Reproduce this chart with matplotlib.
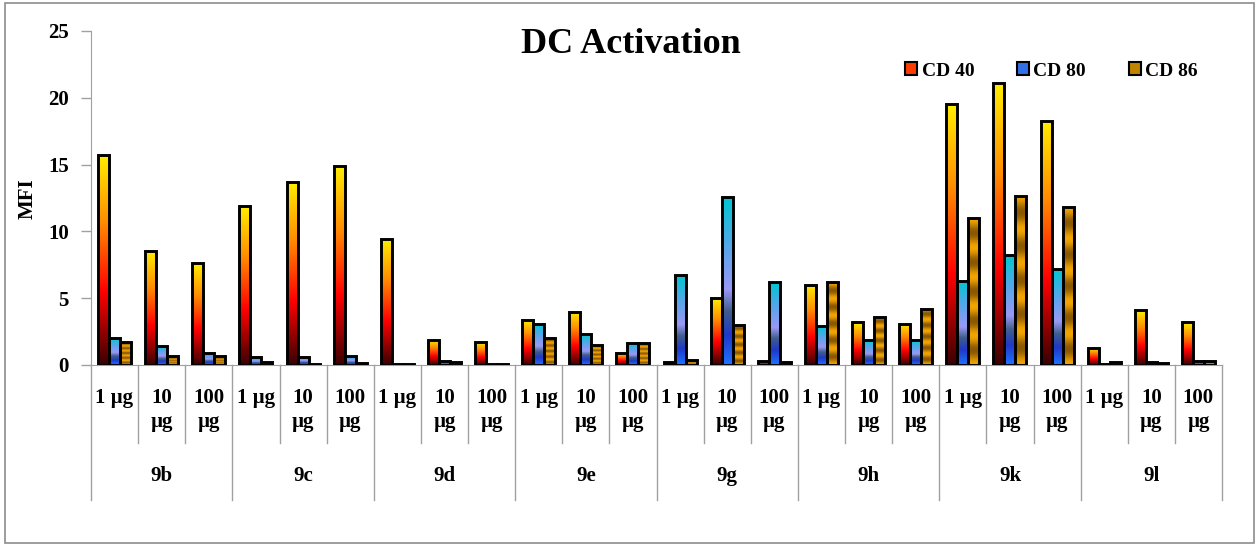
import matplotlib
matplotlib.use('Agg')
import matplotlib.pyplot as plt
import matplotlib.transforms as transforms
from matplotlib.colors import LinearSegmentedColormap
from matplotlib.patches import Patch, Rectangle
import numpy as np

# compounds and doses on the x axis
GROUPS = ['9b', '9c', '9d', '9e', '9g', '9h', '9k', '9l']
DOSES = ['1 µg', '10\nµg', '100\nµg']

# MFI per marker, 3 doses per compound
CD40 = [15.7, 8.5, 7.6, 11.9, 13.7, 14.9, 9.4, 1.9, 1.7, 3.4, 4.0, 0.9,
        0.25, 5.0, 0.33, 6.0, 3.2, 3.1, 19.5, 21.1, 18.3, 1.3, 4.1, 3.2]
CD80 = [2.05, 1.45, 0.9, 0.57, 0.6, 0.67, 0.1, 0.3, 0.05, 3.1, 2.3, 1.65,
        6.7, 12.55, 6.2, 2.95, 1.85, 1.85, 6.3, 8.2, 7.2, 0.1, 0.25, 0.3]
CD86 = [1.75, 0.67, 0.67, 0.25, 0.1, 0.15, 0.1, 0.2, 0.05, 2.05, 1.5, 1.65,
        0.4, 3.0, 0.25, 6.2, 3.6, 4.2, 11.0, 12.65, 11.8, 0.2, 0.15, 0.3]
SERIES = ['CD 40', 'CD 80', 'CD 86']

W, H = 1260, 546
FONT = 'Liberation Serif'

# bar fills (excel style gradients)
cmap_cd40 = LinearSegmentedColormap.from_list('cd40', [
    (0.0, '#3a0000'), (0.35, '#ff0000'), (0.68, '#ff8c00'), (1.0, '#ffee00')])
cmap_cd80 = LinearSegmentedColormap.from_list('cd80', [
    (0.0, '#1e74ff'), (0.18, '#2038c8'), (0.32, '#3f5d8c'), (0.45, '#9a98f6'),
    (0.7, '#58a6ea'), (1.0, '#00c6d2')])
cmap_cd86 = LinearSegmentedColormap.from_list('cd86', ['#8a5800', '#f2a400'])


def fill_gradient(ax, bar, cmap, stripes=False):
    x0, y0 = bar.get_x(), bar.get_y()
    w, h = bar.get_width(), bar.get_height()
    t = np.linspace(0, 1, 256)
    if stripes:
        t = 0.5 + 0.5 * np.cos(2 * np.pi * 5 * t)
    im = ax.imshow(t.reshape(-1, 1), extent=[x0, x0 + w, y0, y0 + h],
                   origin='lower', aspect='auto', cmap=cmap, vmin=0, vmax=1,
                   zorder=2, interpolation='bilinear')
    im.set_clip_path(bar)


fig = plt.figure(figsize=(W / 100, H / 100), dpi=100)
ax = fig.add_axes([91 / W, 1 - 365 / H, (1222 - 91) / W, (365 - 31) / H])

n = len(GROUPS) * len(DOSES)
x = np.arange(n)
bw = 0.233
fills = [(CD40, cmap_cd40, False), (CD80, cmap_cd80, False), (CD86, cmap_cd86, True)]
for k, (vals, cmap, stripes) in enumerate(fills):
    bars = ax.bar(x + (k - 1) * bw, vals, width=bw, facecolor='none',
                  edgecolor='black', linewidth=2.1, zorder=3)
    for b in bars:
        fill_gradient(ax, b, cmap, stripes)

ax.set_xlim(-0.5, n - 0.5)
ax.set_ylim(0, 25)
ax.set_yticks([0, 5, 10, 15, 20, 25])
ax.set_xticks([])
for s in ['top', 'right']:
    ax.spines[s].set_visible(False)
for s in ['left', 'bottom']:
    ax.spines[s].set_color('#a0a0a0')
ax.tick_params(axis='y', length=7, width=1, color='#a0a0a0', pad=9)
for lab in ax.get_yticklabels():
    lab.set_fontfamily(FONT)
    lab.set_fontweight('bold')
    lab.set_fontsize(15)

fig.text(28 / W, 1 - 199 / H, 'MFI', rotation=90, ha='center', va='center',
         family=FONT, weight='bold', fontsize=15)
fig.text(631 / W, 1 - 53 / H, 'DC Activation', ha='center', va='baseline',
         family=FONT, weight='bold', fontsize=26)

# category labels under the axis
blend = transforms.blended_transform_factory(ax.transData, fig.transFigure)
for i in range(n):
    lines = DOSES[i % 3].split('\n')
    for j, line in enumerate(lines):
        ax.text(i, 1 - (398 + 24 * j) / H, line, transform=blend, ha='center',
                va='center', family=FONT, weight='bold', fontsize=15)
for g, name in enumerate(GROUPS):
    ax.text(3 * g + 1, 1 - 476 / H, name, transform=blend, ha='center',
            va='center', family=FONT, weight='bold', fontsize=15)
for i in range(n + 1):
    y_end = 500 if i % 3 == 0 else 443
    ax.plot([i - 0.5, i - 0.5], [1 - 365 / H, 1 - y_end / H], transform=blend,
            color='#a0a0a0', linewidth=1, clip_on=False, scalex=False, scaley=False)

handles = [Patch(facecolor=c, edgecolor='black', linewidth=1.5)
           for c in ['#ff3c00', '#3270e6', '#c08400']]
fig.legend(handles, SERIES, loc='center left', ncol=3, frameon=False,
           bbox_to_anchor=(905 / W, 1 - 71 / H), borderaxespad=0, borderpad=0,
           prop={'family': FONT, 'weight': 'bold', 'size': 14},
           handlelength=0.6, handleheight=0.6, handletextpad=0.25, columnspacing=2.2)

fig.patches.append(Rectangle((5 / W, 3 / H), 1249 / W, 540 / H, transform=fig.transFigure,
                             fill=False, edgecolor='#8c8c8c', linewidth=1.2))

fig.savefig('out.png', dpi=100)
